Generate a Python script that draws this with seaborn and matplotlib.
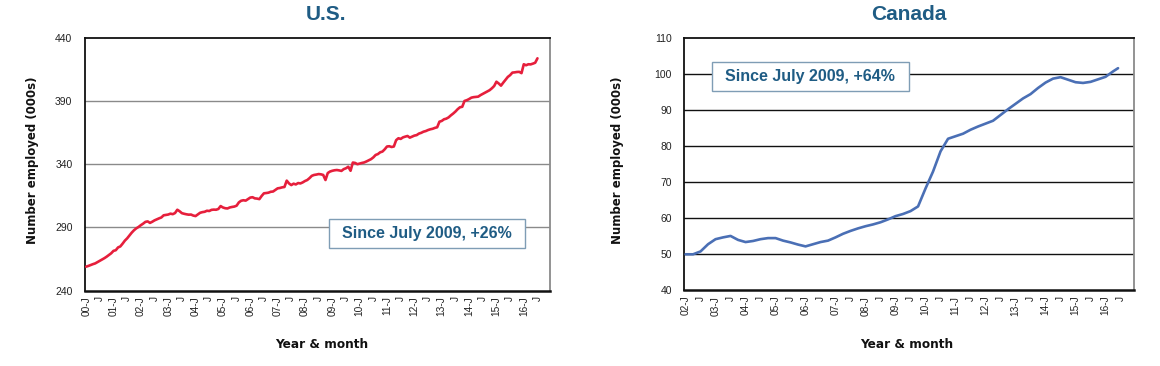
import numpy as np
import pandas as pd
import matplotlib
matplotlib.use("Agg")
import matplotlib.pyplot as plt
from matplotlib.patches import Rectangle
import seaborn as sns

# ---------------- data ----------------
us_start = "2000-01"
us_values = [
    259.0, 259.6, 260.3, 261.0, 261.6, 262.6, 263.5, 264.6, 265.7, 266.9, 268.3, 269.6,
    271.5, 272.0, 274.2, 275.0, 277.2, 279.6, 281.4, 283.6, 285.9, 287.8, 289.3, 290.4,
    291.8, 293.0, 294.4, 294.8, 293.6, 294.5, 295.6, 296.4, 297.2, 297.9, 299.6, 299.9,
    300.2, 300.9, 300.5, 301.4, 304.0, 302.8, 301.3, 300.8, 300.4, 300.1, 300.2, 299.4,
    299.0, 300.3, 301.6, 302.1, 302.4, 303.2, 303.0, 303.9, 304.1, 304.0, 304.6, 306.9,
    305.8, 305.2, 305.0, 305.8, 306.2, 306.5, 307.2, 309.8, 311.1, 311.5, 311.2, 312.4,
    313.6, 313.9, 313.0, 312.8, 312.4, 314.9, 317.0, 317.2, 317.5, 318.2, 318.4, 319.6,
    320.9, 321.2, 321.7, 322.0, 327.0, 324.8, 323.5, 324.6, 324.0, 325.1, 324.8, 325.6,
    326.7, 327.5, 329.0, 330.8, 331.5, 331.8, 332.2, 332.0, 331.5, 327.5, 333.0, 334.2,
    334.8, 335.2, 335.4, 335.1, 334.7, 336.1, 336.8, 338.0, 334.8, 341.3, 341.0, 340.0,
    340.5, 341.0, 341.4, 342.2, 343.1, 344.0, 345.4, 347.3, 348.0, 349.4, 350.0, 351.8,
    354.0, 354.2, 353.6, 354.0, 359.0, 360.5, 360.0, 361.2, 361.8, 362.3, 361.0, 361.8,
    362.6, 363.0, 364.2, 364.8, 365.7, 366.2, 367.0, 367.6, 368.0, 368.7, 369.2, 373.6,
    374.2, 375.5, 376.0, 377.0, 378.6, 380.0, 381.6, 383.5, 385.0, 385.4, 390.0, 390.6,
    391.5, 392.6, 393.0, 393.2, 393.4, 394.6, 395.6, 396.5, 397.6, 398.5, 400.0, 401.8,
    405.2, 403.8, 402.1, 404.5, 406.7, 409.0, 410.4, 412.4, 412.6, 412.9, 413.0, 412.0,
    419.0, 418.2, 419.0, 418.9, 419.5, 420.2, 423.7,
]

canada_dates = [
    "2002-01", "2002-04", "2002-07", "2002-10", "2003-01", "2003-04", "2003-07", "2003-10",
    "2004-01", "2004-04", "2004-07", "2004-10", "2005-01", "2005-04", "2005-07", "2005-10",
    "2006-01", "2006-04", "2006-07", "2006-10", "2007-01", "2007-04", "2007-07", "2007-10",
    "2008-01", "2008-04", "2008-07", "2008-10", "2009-01", "2009-04", "2009-07", "2009-10",
    "2010-01", "2010-04", "2010-07", "2010-10", "2011-01", "2011-04", "2011-07", "2011-10",
    "2012-01", "2012-04", "2012-07", "2012-10", "2013-01", "2013-04", "2013-07", "2013-10",
    "2014-01", "2014-04", "2014-07", "2014-10", "2015-01", "2015-04", "2015-07", "2015-10",
    "2016-01", "2016-04", "2016-06",
]
canada_values = [
    50.0, 50.0, 50.8, 52.8, 54.2, 54.7, 55.1, 54.0,
    53.4, 53.7, 54.2, 54.5, 54.5, 53.8, 53.3, 52.7,
    52.2, 52.8, 53.4, 53.8, 54.7, 55.7, 56.5, 57.2,
    57.8, 58.3, 58.9, 59.7, 60.6, 61.2, 62.0, 63.3,
    68.3, 73.0, 78.6, 82.1, 82.8, 83.5, 84.6, 85.5,
    86.3, 87.1, 88.7, 90.3, 91.8, 93.3, 94.5, 96.2,
    97.7, 98.8, 99.2, 98.5, 97.8, 97.6, 97.9, 98.6,
    99.3, 100.8, 101.7,
]

us_years = list(range(2000, 2017))
canada_years = list(range(2002, 2017))
us_title = "U.S."
canada_title = "Canada"
us_note = "Since July 2009, +26%"
canada_note = "Since July 2009, +64%"
y_title = "Number employed (000s)"
x_title = "Year & month"


def month_index(dates, base_year):
    d = pd.to_datetime(pd.Series(dates))
    return ((d.dt.year - base_year) * 12 + d.dt.month - 1).to_numpy()


us_dates = pd.date_range(us_start, periods=len(us_values), freq="MS").strftime("%Y-%m")
us_df = pd.DataFrame({"m": month_index(us_dates, 2000), "v": us_values})
ca_df = pd.DataFrame({"m": month_index(canada_dates, 2002), "v": canada_values})


def tick_labels(years):
    labs = []
    for y in years:
        labs.append(f"{y % 100:02d}-J")
        labs.append("J")
    return labs

# ---------------- style ----------------
sns.set_style("white")
plt.rcParams["font.family"] = ["Liberation Sans", "DejaVu Sans"]

W, H = 1160, 366
fig = plt.figure(figsize=(W / 100, H / 100), dpi=100)


def rect(l, t, r, b):
    return [l / W, 1 - b / H, (r - l) / W, (b - t) / H]


title_color = "#1F5C84"


def style_axes(ax, grid_color, ylim, yticks, xmax, years):
    ax.set_ylim(*ylim)
    ax.set_yticks(yticks)
    ax.set_yticklabels([str(t) for t in yticks], fontsize=7.5, color="#222222")
    ax.set_xlim(-0.5, xmax)
    ticks = np.arange(0, len(years) * 12, 6)
    ax.set_xticks(ticks)
    ax.set_xticklabels(tick_labels(years), rotation=90, fontsize=7.3, color="#222222")
    ax.tick_params(axis="both", length=0, pad=4)
    ax.tick_params(axis="y", pad=9)
    for t in yticks[1:-1]:
        ax.axhline(t, color=grid_color, lw=1.0, zorder=1)
    for s in ["top", "left", "bottom"]:
        ax.spines[s].set_color("#111111")
        ax.spines[s].set_linewidth(1.3)
    ax.spines["bottom"].set_linewidth(1.8)
    ax.spines["right"].set_color("#8a8a8a")
    ax.spines["right"].set_linewidth(1.3)
    ax.set_xlabel("")
    ax.set_ylabel("")


# US
ax1 = fig.add_axes(rect(85, 37.7, 550, 290.7))
sns.lineplot(data=us_df, x="m", y="v", ax=ax1, color="#E61F3C", linewidth=1.9, zorder=3)
style_axes(ax1, "#8a8a8a", (240, 440), [240, 290, 340, 390, 440], 203.5, us_years)

# Canada
ax2 = fig.add_axes(rect(684.3, 38.3, 1134.3, 290.3))
sns.lineplot(data=ca_df, x="m", y="v", ax=ax2, color="#4A6FB5", linewidth=1.9, zorder=3)
style_axes(ax2, "#111111", (40, 110), [40, 50, 60, 70, 80, 90, 100, 110], 179.5, canada_years)

# titles and axis titles
fig.text(326 / W, 1 - 15 / H, us_title, ha="center", va="center", fontsize=15,
         fontweight="bold", color=title_color)
fig.text(909 / W, 1 - 15 / H, canada_title, ha="center", va="center", fontsize=15,
         fontweight="bold", color=title_color)
for xc, yc in [(33, 160), (617, 160)]:
    fig.text(xc / W, 1 - yc / H, y_title, ha="center", va="center", rotation=90,
             fontsize=8.5, fontweight="bold", family=["DejaVu Sans"], color="#111111")
for xc in [322, 907]:
    fig.text(xc / W, 1 - 344 / H, x_title, ha="center", va="center",
             fontsize=8.7, fontweight="bold", family=["DejaVu Sans"], color="#111111")

# annotation boxes
for (l, t, r, b), note in [((328.5, 219.3, 525, 248.3), us_note),
                           ((711.5, 61.7, 908.5, 90.7), canada_note)]:
    fig.patches.append(Rectangle((l / W, 1 - b / H), (r - l) / W, (b - t) / H,
                                 transform=fig.transFigure, facecolor="white",
                                 edgecolor="#7f9db5", linewidth=1.0, zorder=5))
    fig.text((l + r) / 2 / W, 1 - (t + b) / 2 / H, note, ha="center", va="center",
             fontsize=11.5, fontweight="bold", color=title_color, zorder=6)

fig.savefig("out.png", dpi=100)
